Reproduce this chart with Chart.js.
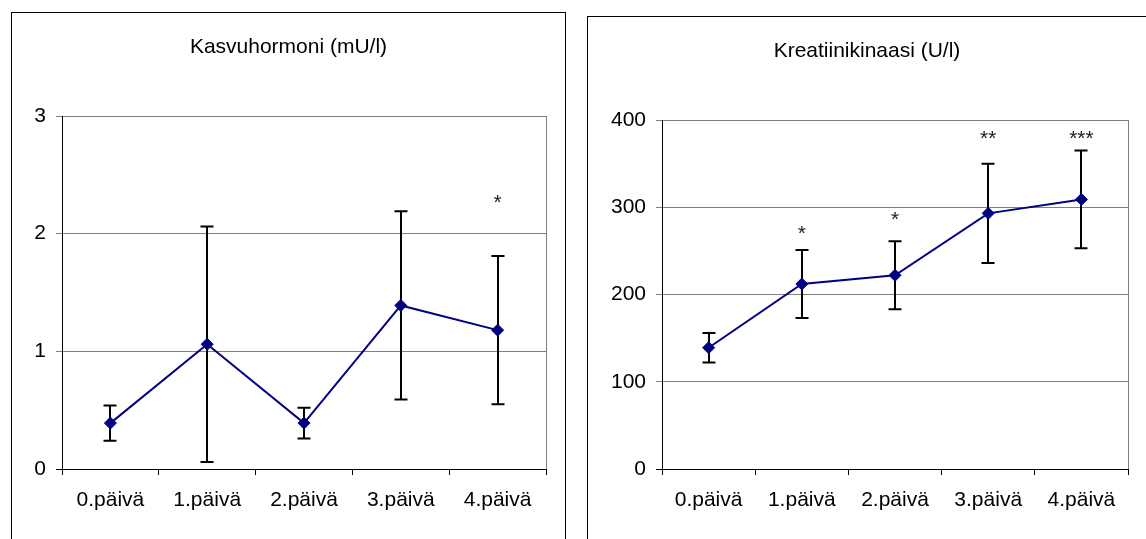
<!DOCTYPE html>
<html>
<head>
<meta charset="utf-8">
<script src="https://cdn.jsdelivr.net/npm/chart.js@4.4.1/dist/chart.umd.min.js"></script>
<style>
  html, body { margin: 0; padding: 0; background: #fff; overflow: hidden; width: 1146px; height: 539px; }
  .panel { position: absolute; border: 1px solid #000; background: #fff; }
  #p1 { left: 11px; top: 12px; width: 553px; height: 600px; }
  #p2 { left: 587px; top: 16px; width: 600px; height: 600px; }
  canvas { position: absolute; left: 0; top: 0; }
</style>
</head>
<body>
<div class="panel" id="p1"><canvas id="c1" width="553" height="526"></canvas></div>
<div class="panel" id="p2"><canvas id="c2" width="558" height="522"></canvas></div>
<script>
// Measurement days
const days = ['0.päivä', '1.päivä', '2.päivä', '3.päivä', '4.päivä'];

// Kasvuhormoni (mU/l): mean and standard deviation per day
const ghMean = [0.39, 1.06, 0.39, 1.39, 1.18];
const ghSd   = [0.15, 1.00, 0.13, 0.80, 0.63];
// significance marks and the level (mU/l) they sit at
const ghMarks  = ['', '', '', '', '*'];
const ghMarkAt = [null, null, null, null, 2.31];

// Kreatiinikinaasi (U/l): mean and standard deviation per day
const ckMean = [139, 212, 222, 293, 309];
const ckSd   = [17, 39, 39, 57, 56];
const ckMarks  = ['', '*', '*', '**', '***'];
const ckMarkAt = [null, 276, 292, 385, 385];

const FONT = "'Liberation Sans', Arial, sans-serif";
const FONT_SIZE = 21;
const NAVY = '#000080';
const GRID = '#808080';

Chart.defaults.font.family = FONT;
Chart.defaults.font.size = FONT_SIZE;
Chart.defaults.color = '#000';

// Title drawn centred across the whole panel
const panelTitle = {
  id: 'panelTitle',
  afterDraw(chart, args, opts) {
    const ctx = chart.ctx;
    ctx.save();
    ctx.font = FONT_SIZE + 'px ' + FONT;
    ctx.fillStyle = '#000';
    ctx.textAlign = 'center';
    ctx.textBaseline = 'alphabetic';
    ctx.fillText(opts.text, chart.width / 2, opts.baseline);
    ctx.restore();
  }
};

// Right-hand frame of the plot area plus the ±SD whiskers
const errorBars = {
  id: 'errorBars',
  beforeDatasetsDraw(chart, args, opts) {
    const ctx = chart.ctx;
    const a = chart.chartArea;
    ctx.save();
    ctx.strokeStyle = GRID;
    ctx.lineWidth = 1;
    ctx.beginPath();
    const xr = Math.floor(a.right) + 0.5;
    ctx.moveTo(xr, a.top);
    ctx.lineTo(xr, a.bottom);
    ctx.stroke();

    const y = chart.scales.y;
    const meta = chart.getDatasetMeta(0);
    const means = chart.data.datasets[0].data;
    const sds = opts.sd;
    ctx.strokeStyle = '#000';
    ctx.lineWidth = 2;
    meta.data.forEach((pt, i) => {
      const x = Math.round(pt.x);
      const top = y.getPixelForValue(means[i] + sds[i]);
      const bot = y.getPixelForValue(means[i] - sds[i]);
      ctx.beginPath();
      ctx.moveTo(x, top);
      ctx.lineTo(x, bot);
      ctx.moveTo(x - 6.5, top);
      ctx.lineTo(x + 6.5, top);
      ctx.moveTo(x - 6.5, bot);
      ctx.lineTo(x + 6.5, bot);
      ctx.stroke();
    });
    ctx.restore();
  },
  afterDatasetsDraw(chart, args, opts) {
    const ctx = chart.ctx;
    const y = chart.scales.y;
    const meta = chart.getDatasetMeta(0);
    ctx.save();
    ctx.font = FONT_SIZE + 'px ' + FONT;
    ctx.fillStyle = '#222';
    ctx.textAlign = 'center';
    ctx.textBaseline = 'alphabetic';
    opts.marks.forEach((m, i) => {
      if (!m) return;
      const cy = y.getPixelForValue(opts.markAt[i]);
      ctx.fillText(m, meta.data[i].x, cy + 0.55 * FONT_SIZE);
    });
    ctx.restore();
  }
};

function makeChart(id, cfg) {
  return new Chart(document.getElementById(id), {
    type: 'line',
    data: {
      labels: days,
      datasets: [{
        data: cfg.mean,
        borderColor: NAVY,
        backgroundColor: NAVY,
        borderWidth: 2,
        pointStyle: 'rectRot',
        pointRadius: 6,
        pointBorderWidth: 1,
        pointBackgroundColor: NAVY,
        pointBorderColor: NAVY,
        tension: 0
      }]
    },
    options: {
      responsive: false,
      animation: false,
      devicePixelRatio: 1,
      layout: { padding: { top: 103, right: cfg.padRight, bottom: 0, left: 0 } },
      plugins: {
        legend: { display: false },
        tooltip: { enabled: false },
        panelTitle: { text: cfg.title, baseline: 40 },
        errorBars: { sd: cfg.sd, marks: cfg.marks, markAt: cfg.markAt }
      },
      scales: {
        x: {
          type: 'category',
          offset: true,
          grid: {
            offset: true,
            drawOnChartArea: false,
            drawTicks: true,
            tickLength: 6,
            color: '#000'
          },
          border: { color: '#000', width: 1 },
          ticks: { padding: 13, maxRotation: 0, autoSkip: false, color: '#000' },
          afterFit: s => { s.height = 70; }
        },
        y: {
          min: 0,
          max: cfg.max,
          grid: {
            color: c => (c.tick && c.tick.value === 0 ? '#000' : GRID),
            tickLength: 6,
            drawTicks: true
          },
          border: { color: '#000', width: 1 },
          ticks: { stepSize: cfg.step, padding: 10, color: '#000' },
          afterFit: s => { s.width = cfg.axisWidth; }
        }
      }
    },
    plugins: [panelTitle, errorBars]
  });
}

makeChart('c1', {
  title: 'Kasvuhormoni (mU/l)',
  mean: ghMean, sd: ghSd, marks: ghMarks, markAt: ghMarkAt,
  max: 3, step: 1, axisWidth: 50, padRight: 19
});

makeChart('c2', {
  title: 'Kreatiinikinaasi (U/l)',
  mean: ckMean, sd: ckSd, marks: ckMarks, markAt: ckMarkAt,
  max: 400, step: 100, axisWidth: 74, padRight: 18
});
</script>
</body>
</html>
